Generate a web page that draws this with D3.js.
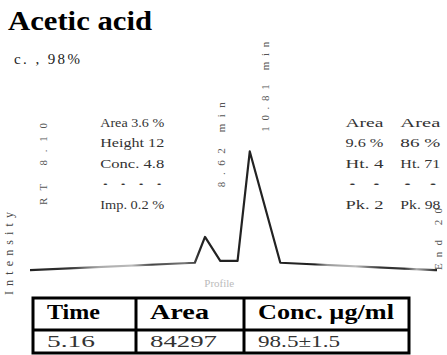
<!DOCTYPE html>
<html>
<head>
<meta charset="utf-8">
<script src="https://cdn.jsdelivr.net/npm/d3@7"></script>
<style>
  body { margin: 0; background: #fff; }
  svg { display: block; font-family: "Liberation Serif", "DejaVu Serif", serif; }
</style>
</head>
<body>
<div id="chart"></div>
<script>
// chromatogram trace (minutes, signal %)
const times   = [0, 8.1, 8.6, 9.35, 10.2, 10.8, 12.3, 19.9, 20];
const signals = [1.6, 7.5, 28.5, 9.1, 9.1, 98, 7.5, 1.6, 1.6];

// table
const tableHeaders = ["Time", "Area", "Conc. \u00b5g/ml"];
const tableValues  = ["5.16", "84297", "98.5\u00b11.5"];

// peak annotations
const rotatedTimes  = [0.6, 9.35, 11.5, 20];
const rotatedLevels = [54.5, 69, 114, 1.6];
const rotatedTexts  = ["RT 8.10", "8.62 min", "10.81 min", "End 20"];
const leftBlock   = ["Area 3.6 %", "Height 12", "Conc. 4.8", "\u00b7  \u00b7   \u00b7  \u00b7", "Imp. 0.2 %"];
const rightBlockA = ["Area", "9.6 %", "Ht. 4", "\u00b7  \u00b7", "Pk. 2"];
const rightBlockB = ["Area", "86 %", "Ht. 71", "\u00b7  \u00b7", "Pk. 98"];

const W = 447, H = 355;
const svg = d3.select("#chart").append("svg").attr("width", W).attr("height", H);

const x = d3.scaleLinear().domain([0, 20]).range([30, 437]);
const y = d3.scaleLinear().domain([0, 100]).range([272, 149]);

// title
svg.append("text").attr("x", 8).attr("y", 30)
  .attr("font-family", "'Liberation Serif', 'Times New Roman', serif")
  .attr("font-size", 28).attr("font-weight", "bold").attr("fill", "#000")
  .attr("textLength", 144).attr("lengthAdjust", "spacingAndGlyphs")
  .text("Acetic acid");
svg.append("text").attr("x", 14).attr("y", 64)
  .attr("font-size", 15).attr("fill", "#222")
  .attr("textLength", 66)
  .text("c. , 98%");

// gradient for the trace
const grad = svg.append("defs").append("linearGradient")
  .attr("id", "trace").attr("gradientUnits", "userSpaceOnUse")
  .attr("x1", 30).attr("x2", 437).attr("y1", 0).attr("y2", 0);
[[0, "#222"], [0.1, "#333"], [0.17, "#aaa"], [0.25, "#bbb"], [0.3, "#444"],
 [0.38, "#777"], [0.42, "#222"], [0.7, "#222"], [0.73, "#999"], [0.8, "#bbb"],
 [0.86, "#333"], [0.92, "#333"], [0.95, "#aaa"], [1, "#222"]]
  .forEach(s => grad.append("stop").attr("offset", s[0]).attr("stop-color", s[1]));

const line = d3.line().x((d, i) => x(times[i])).y((d, i) => y(signals[i]));
svg.append("path").datum(signals)
  .attr("d", line)
  .attr("fill", "none")
  .attr("stroke", "url(#trace)")
  .attr("stroke-width", 2.2)
  .attr("stroke-linejoin", "round");

// axis labels
svg.append("text")
  .attr("transform", "translate(13,295) rotate(-90)")
  .attr("font-size", 12).attr("fill", "#444")
  .attr("textLength", 83)
  .text("Intensity");
svg.append("text").attr("x", x(9.3)).attr("y", 287)
  .attr("text-anchor", "middle").attr("font-size", 11).attr("fill", "#bbb")
  .text("Profile");

// rotated peak labels
const rotLen = [82, 85, 90, 62];
svg.append("g").selectAll("text").data(rotatedTexts).enter().append("text")
  .attr("transform", (d, i) => `translate(${x(rotatedTimes[i]) + 5},${y(rotatedLevels[i])}) rotate(-90)`)
  .attr("font-size", 11).attr("fill", "#555")
  .attr("textLength", (d, i) => rotLen[i])
  .text(d => d);

function block(rows, t, w) {
  svg.append("g").selectAll("text").data(rows).enter().append("text")
    .attr("x", x(t)).attr("y", (d, i) => y(118) + i * 20.5)
    .attr("font-size", 12).attr("fill", "#333")
    .attr("textLength", w).attr("lengthAdjust", "spacingAndGlyphs")
    .text(d => d);
}
block(leftBlock, 3.45, 64);
block(rightBlockA, 15.5, 38);
block(rightBlockB, 18.2, 40);

// table
const colEdges = [33, 136, 244, 409];
const rowEdges = [298, 330, 353];
const headLen = [53, 59, 136];
const valLen = [48, 67, 82];
const tbl = svg.append("g");
tbl.append("rect")
  .attr("x", colEdges[0]).attr("y", rowEdges[0])
  .attr("width", colEdges[3] - colEdges[0]).attr("height", rowEdges[2] - rowEdges[0])
  .attr("fill", "none").attr("stroke", "#000").attr("stroke-width", 3);
tbl.append("line").attr("x1", colEdges[0]).attr("x2", colEdges[3])
  .attr("y1", rowEdges[1]).attr("y2", rowEdges[1]).attr("stroke", "#000").attr("stroke-width", 3);
tbl.selectAll("line.col").data(colEdges.slice(1, 3)).enter().append("line")
  .attr("class", "col")
  .attr("x1", d => d).attr("x2", d => d)
  .attr("y1", rowEdges[0]).attr("y2", rowEdges[2])
  .attr("stroke", "#000").attr("stroke-width", 3);
tbl.selectAll("text.h").data(tableHeaders).enter().append("text")
  .attr("class", "h")
  .attr("x", (d, i) => colEdges[i] + 14).attr("y", 319)
  .attr("font-size", 21).attr("font-weight", "bold").attr("fill", "#000")
  .attr("textLength", (d, i) => headLen[i]).attr("lengthAdjust", "spacingAndGlyphs")
  .text(d => d);
tbl.selectAll("text.v").data(tableValues).enter().append("text")
  .attr("class", "v")
  .attr("x", (d, i) => colEdges[i] + 14).attr("y", 347)
  .attr("font-size", 17).attr("fill", "#333")
  .attr("textLength", (d, i) => valLen[i]).attr("lengthAdjust", "spacingAndGlyphs")
  .text(d => d);
</script>
</body>
</html>
